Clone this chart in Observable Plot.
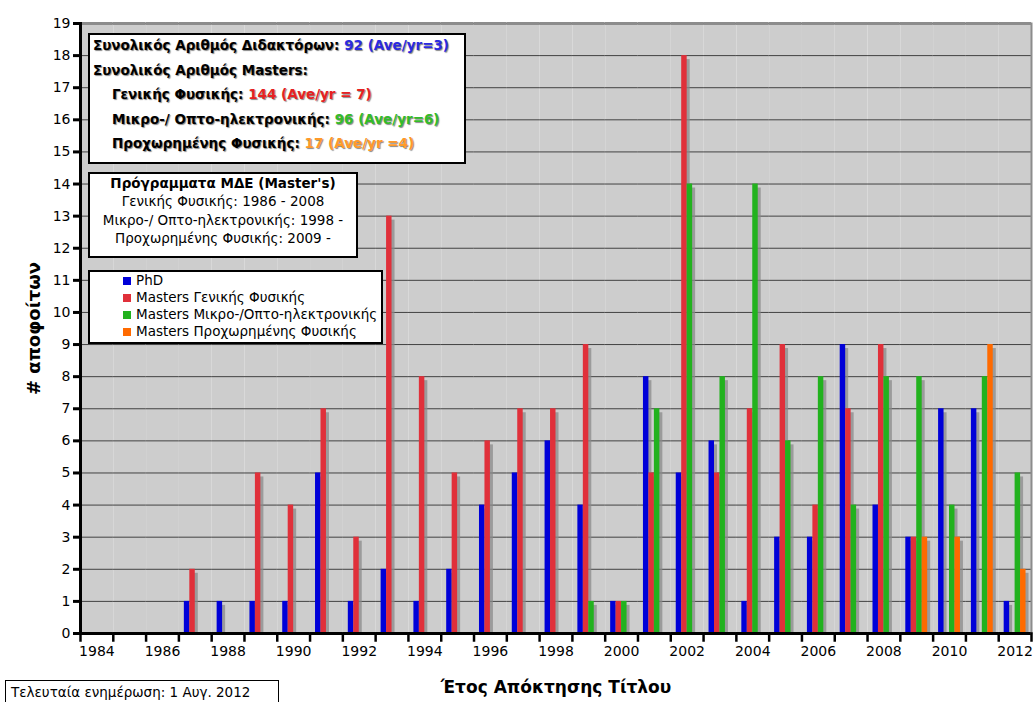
<!DOCTYPE html>
<html><head><meta charset="utf-8">
<script src="https://cdn.jsdelivr.net/npm/d3@7"></script>
<script src="https://cdn.jsdelivr.net/npm/@observablehq/plot@0.6"></script>
<style>
body{margin:0;background:#fff;font-family:"DejaVu Sans",Verdana,sans-serif;color:#000;}
#wrap{position:relative;width:1033px;height:702px;overflow:hidden;}
#wrap svg{position:absolute;left:0;top:0;}
.box{position:absolute;background:#fff;border:2px solid #000;box-sizing:border-box;font-size:13.5px;}
#b1{left:88px;top:33px;width:378px;height:131px;font-weight:bold;line-height:24.5px;padding:0 0 0 3px;text-shadow:1px 1px 1px #888;}
#b1 .in{padding-left:19px;}
#b1 .t{margin-top:-2px;}
#b2{left:88px;top:172px;width:270px;height:86px;text-align:center;line-height:18.3px;}
#lg{left:88px;top:270px;width:295px;height:74px;line-height:17px;padding-left:33px;}
#lg .sw{display:inline-block;width:8px;height:8px;margin-right:5px;vertical-align:0px;}
#ft{left:5px;top:680px;width:274px;height:26px;border-width:1px;font-size:13.5px;padding:2px 0 0 5px;line-height:18px;}
</style></head><body><div id="wrap"></div>
<script>
// ---- data ----
const years = [1984,1985,1986,1987,1988,1989,1990,1991,1992,1993,1994,1995,1996,1997,1998,1999,2000,2001,2002,2003,2004,2005,2006,2007,2008,2009,2010,2011,2012];
const seriesNames = ["PhD","Masters Γενικής Φυσικής","Masters Μικρο-/Οπτο-ηλεκτρονικής","Masters Προχωρημένης Φυσικής"];
const seriesColors = ["#0000d8","#e0303a","#22b21e","#ff6a00"];
const phd   = [0,0,0,1,1,1,1,5,1,2,1,2,4,5,6,4,1,8,5,6,1,3,3,9,4,3,7,7,1];
const genPh = [0,0,0,2,0,5,4,7,3,13,8,5,6,7,7,9,1,5,18,5,7,9,4,7,9,3,0,0,0];
const micro = [0,0,0,0,0,0,0,0,0,0,0,0,0,0,0,1,1,7,14,8,14,6,8,4,8,8,4,8,5];
const adv   = [0,0,0,0,0,0,0,0,0,0,0,0,0,0,0,0,0,0,0,0,0,0,0,0,0,3,3,9,2];
const yTicks = [0,1,2,3,4,5,6,7,8,9,10,11,12,13,14,15,16,17,18,19];
const yLabel = "# αποφοίτων";
const xLabel = "Έτος Απόκτησης Τίτλου";

const seriesValues = [phd, genPh, micro, adv];
const data = [];
years.forEach((yr, i) => seriesValues.forEach((vals, k) => {
  if (vals[i] > 0) data.push({year: yr, series: seriesNames[k], value: vals[i]});
}));

const chart = Plot.plot({
  width: 1033, height: 702,
  marginLeft: 80, marginRight: 2, marginTop: 23, marginBottom: 69,
  facet: {marginLeft: 0, marginRight: 0, marginTop: 0, marginBottom: 0},
  style: {fontFamily: "DejaVu Sans, Verdana, sans-serif", fontSize: "14px", color: "#000", background: "transparent", overflow: "visible"},
  fx: {domain: years, paddingInner: 0, paddingOuter: 0, round: false, label: null},
  x: {domain: seriesNames, paddingInner: 0, paddingOuter: 1, round: false, axis: null},
  y: {domain: [0, 19], label: null},
  color: {domain: seriesNames, range: seriesColors},
  marks: [
    Plot.frame({fill: "#cdcdcd"}),
    Plot.gridY({ticks: yTicks, stroke: "#333", strokeOpacity: 0.9, strokeWidth: 1}),
    Plot.ruleY([19], {stroke: "#8c8c8c", strokeWidth: 3}),
    Plot.barY(data, {fx: "year", x: "series", y: "value", fill: "#8a8a8a", fillOpacity: 0.75, dx: 3, dy: 4, inset: 0, clip: true}),
    Plot.barY(data, {fx: "year", x: "series", y: "value", fill: "series", inset: 0}),
    // baseline for every year (also keeps empty years as facets)
    Plot.ruleY(years, {fx: d => d, y: () => 0, stroke: "#000", strokeWidth: 3}),
    Plot.frame({anchor: "left", stroke: "#000", strokeWidth: 3, facetAnchor: "left"}),
    Plot.frame({anchor: "right", stroke: "#8c8c8c", strokeWidth: 2, facetAnchor: "right"}),
    Plot.frame({anchor: "left", stroke: "#000", strokeWidth: 2.5, insetTop: 610, insetBottom: -7}),
    Plot.frame({anchor: "right", stroke: "#000", strokeWidth: 2.5, insetTop: 610, insetBottom: -7, facetAnchor: "right"}),
    Plot.axisY({ticks: yTicks, tickSize: 7, tickPadding: 3, strokeWidth: 3, fontSize: 14, label: null}),
    Plot.axisY({ticks: [], tickSize: 0, label: yLabel, labelAnchor: "center", labelArrow: "none", labelOffset: 53, fontSize: 18, fontWeight: "bold"}),
    Plot.axisFx({anchor: "bottom", tickSize: 0, tickPadding: 13, tickFormat: d => d % 2 === 0 ? String(d) : "", fontSize: 14, label: null}),
    Plot.axisFx({anchor: "bottom", ticks: [], tickSize: 0, label: xLabel, labelAnchor: "center", labelArrow: "none", labelOffset: 59, fontSize: 17, fontWeight: "bold"})
  ]
});
const wrap = document.getElementById("wrap");
wrap.appendChild(chart);

// ---- annotation boxes ----
const b1 = document.createElement("div");
b1.className = "box"; b1.id = "b1";
b1.innerHTML = `<div class="t">
<div>Συνολικός Αριθμός Διδακτόρων: <span style="color:#2a2ae0">92 (Ave/yr=3)</span></div>
<div>Συνολικός Αριθμός Masters:</div>
<div class="in">Γενικής Φυσικής: <span style="color:#e52222">144 (Ave/yr = 7)</span></div>
<div class="in">Μικρο-/ Οπτο-ηλεκτρονικής: <span style="color:#33bb2a">96 (Ave/yr=6)</span></div>
<div class="in">Προχωρημένης Φυσικής: <span style="color:#ff9a2a">17 (Ave/yr =4)</span></div></div>`;
wrap.appendChild(b1);

const b2 = document.createElement("div");
b2.className = "box"; b2.id = "b2";
b2.innerHTML = `<div style="font-weight:bold">Πρόγραμματα ΜΔΕ (Master's)</div>
<div>Γενικής Φυσικής: 1986 - 2008</div>
<div>Μικρο-/ Οπτο-ηλεκτρονικής: 1998 -</div>
<div>Προχωρημένης Φυσικής: 2009 -</div>`;
wrap.appendChild(b2);

const lg = document.createElement("div");
lg.className = "box"; lg.id = "lg";
lg.innerHTML = seriesNames.map((n, i) => `<div><span class="sw" style="background:${seriesColors[i]}"></span>${n}</div>`).join("");
wrap.appendChild(lg);

const ft = document.createElement("div");
ft.className = "box"; ft.id = "ft";
ft.textContent = "Τελευταία ενημέρωση: 1 Αυγ. 2012";
wrap.appendChild(ft);
</script></body></html>
